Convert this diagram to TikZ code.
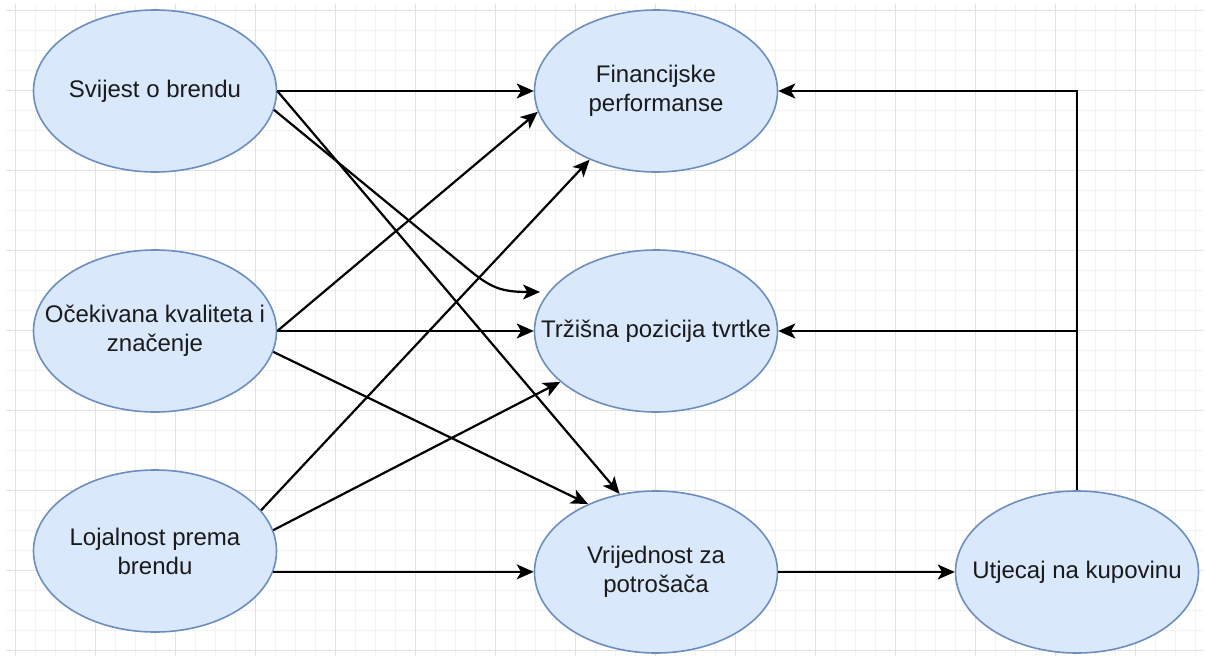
\documentclass[tikz,border=0pt]{standalone}
\usepackage{fontspec}
\setmainfont{Liberation Sans}
\usetikzlibrary{shapes.geometric,arrows.meta}
\definecolor{entfill}{HTML}{DAE8FC}
\definecolor{entline}{HTML}{6C8EBF}
\definecolor{gridminor}{HTML}{F2F2F2}
\definecolor{gridmajor}{HTML}{E2E2E2}
\definecolor{ink}{HTML}{1A1A1A}
\begin{document}
\begin{tikzpicture}[x=0.5pt,y=-0.5pt,
  ent/.style={ellipse, draw=entline, fill=entfill, line width=0.8pt,
    minimum width=121.5pt, minimum height=81pt, inner sep=0pt},
  lbl/.style={font=\fontsize{12}{14.5}\selectfont, align=center, text=ink},
  arr/.style={-{Stealth[length=8.5pt,width=7.5pt,inset=2.2pt]}, line width=1.1pt, draw=black},
  minorline/.style={draw=gridminor, line width=0.5pt},
  majorline/.style={draw=gridmajor, line width=0.5pt},
  ]
\useasboundingbox (0,0) rectangle (1206,659);
\fill[white] (0,0) rectangle (1206,659);

% background grid
\foreach \x in {15,35,...,1195} \draw[minorline] (\x,4) -- (\x,656);
\foreach \y in {10,30,...,650} \draw[minorline] (6,\y) -- (1203,\y);
\foreach \x in {15,95,...,1135} \draw[majorline] (\x,4) -- (\x,656);
\foreach \y in {10,90,...,650} \draw[majorline] (6,\y) -- (1203,\y);

% constructs
\node[ent, label={[lbl]center:Svijest o brendu}] (sv) at (155,91) {};
\node[ent, label={[lbl]center:{Očekivana kvaliteta i\\značenje}}] (oc) at (155,331) {};
\node[ent, label={[lbl]center:{Lojalnost prema\\brendu}}] (lo) at (155,551) {};
\node[ent, label={[lbl]center:{Financijske\\performanse}}] (fi) at (656,91) {};
\node[ent, label={[lbl]center:Tržišna pozicija tvrtke}] (tr) at (656,331) {};
\node[ent, label={[lbl]center:{Vrijednost za\\potrošača}}] (vr) at (656,572) {};
\node[ent, label={[lbl]center:Utjecaj na kupovinu}] (ut) at (1077,572) {};
\coordinate (trin) at (540,292);

% paths from brand awareness
\draw[arr] (sv.east) -- (fi.west);
\draw[arr] (sv.-9) -- (468,269) .. controls (490,287) and (500,292) .. (trin);
\draw[arr] (sv.east) -- (vr.115);

% paths from perceived quality
\draw[arr] (oc.east) -- (fi.190);
\draw[arr] (oc.east) -- (tr.west);
\draw[arr] (oc.-10) -- (vr.135);

% paths from brand loyalty
\draw[arr] (lo.21) -- (fi.226);
\draw[arr] (lo.10) -- (tr.208);
\draw[arr] (lo.-10) -- (lo.-10 -| vr.west);

% consumer value and purchase influence
\draw[arr] (vr.east) -- (ut.west);
\draw[arr] (ut.north) |- (fi.east);
\draw[arr] (ut.north) |- (tr.east);
\end{tikzpicture}
\end{document}
